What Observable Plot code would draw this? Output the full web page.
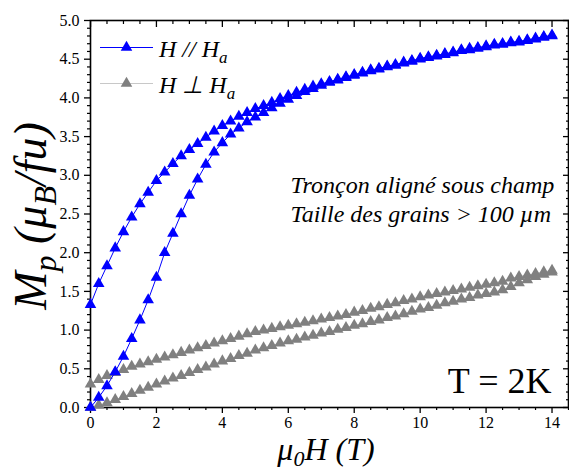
<!DOCTYPE html>
<html><head><meta charset="utf-8">
<script src="https://cdn.jsdelivr.net/npm/d3@7"></script>
<script src="https://cdn.jsdelivr.net/npm/@observablehq/plot@0.6"></script>
<style>body{margin:0;background:#fff} svg{display:block}</style>
</head><body><div id="chart"></div>
<script>
// Field values (T)
const field = [0,0.25,0.5,0.75,1,1.25,1.5,1.75,2,2.25,2.5,2.75,3,3.25,3.5,3.75,4,4.25,4.5,4.75,5,5.25,5.5,5.75,6,6.25,6.5,6.75,7,7.25,7.5,7.75,8,8.25,8.5,8.75,9,9.25,9.5,9.75,10,10.25,10.5,10.75,11,11.25,11.5,11.75,12,12.25,12.5,12.75,13,13.25,13.5,13.75,14];
// H // Ha : increasing (virgin) branch and decreasing branch
const paraUp = [0.00,0.13,0.28,0.46,0.66,0.89,1.13,1.39,1.68,2.00,2.25,2.50,2.74,2.95,3.14,3.30,3.42,3.53,3.61,3.69,3.75,3.81,3.87,3.93,3.98,4.03,4.08,4.12,4.16,4.20,4.23,4.26,4.29,4.32,4.35,4.37,4.40,4.42,4.45,4.47,4.50,4.52,4.54,4.56,4.58,4.61,4.62,4.64,4.66,4.68,4.69,4.71,4.72,4.74,4.76,4.78,4.80];
const paraDown = [1.33,1.60,1.83,2.06,2.27,2.46,2.63,2.78,2.93,3.04,3.15,3.25,3.33,3.41,3.49,3.57,3.64,3.70,3.76,3.81,3.86,3.90,3.94,3.99,4.03,4.07,4.11,4.15,4.18,4.21,4.24,4.27,4.30,4.33,4.36,4.38,4.41,4.43,4.46,4.48,4.51,4.53,4.55,4.57,4.59,4.62,4.64,4.65,4.67,4.69,4.70,4.72,4.73,4.75,4.77,4.79,4.81];
// H ⊥ Ha
const perpUp = [0.00,0.03,0.06,0.10,0.14,0.18,0.22,0.26,0.30,0.34,0.38,0.41,0.45,0.49,0.52,0.56,0.60,0.63,0.67,0.70,0.74,0.77,0.80,0.83,0.86,0.88,0.91,0.93,0.96,0.98,1.01,1.03,1.06,1.08,1.11,1.13,1.16,1.18,1.21,1.24,1.27,1.29,1.32,1.35,1.37,1.40,1.42,1.45,1.47,1.49,1.52,1.56,1.61,1.65,1.69,1.72,1.75];
const perpDown = [0.30,0.36,0.41,0.45,0.49,0.53,0.56,0.59,0.62,0.65,0.68,0.71,0.74,0.77,0.80,0.83,0.86,0.89,0.92,0.95,0.98,1.00,1.02,1.04,1.06,1.08,1.10,1.12,1.14,1.16,1.18,1.20,1.23,1.25,1.28,1.30,1.33,1.35,1.38,1.40,1.43,1.45,1.47,1.49,1.51,1.53,1.55,1.57,1.59,1.61,1.63,1.67,1.69,1.71,1.73,1.75,1.77];

const xMajor = [0,2,4,6,8,10,12,14];
const xMinor = [0.5,1,1.5,2.5,3,3.5,4.5,5,5.5,6.5,7,7.5,8.5,9,9.5,10.5,11,11.5,12.5,13,13.5,14.5];
const yMajor = [0,0.5,1,1.5,2,2.5,3,3.5,4,4.5,5];
const yMinor = [0.1,0.2,0.3,0.4,0.6,0.7,0.8,0.9,1.1,1.2,1.3,1.4,1.6,1.7,1.8,1.9,2.1,2.2,2.3,2.4,2.6,2.7,2.8,2.9,3.1,3.2,3.3,3.4,3.6,3.7,3.8,3.9,4.1,4.2,4.3,4.4,4.6,4.7,4.8,4.9];

const annotation = ["Tronçon aligné sous champ", "Taille des grains > 100 \u00B5m"];
const tempLabel = "T = 2K";

const toRows = (ys) => field.map((h, i) => ({H: h, M: ys[i]}));
const pUp = toRows(paraUp), pDown = toRows(paraDown), qUp = toRows(perpUp), qDown = toRows(perpDown);

const BLUE = "#0000ff", GRAY = "#808080", GRAYLINE = "#b0b0b0";
const FONT = "Liberation Serif";
const R = 4.3;

const chart = Plot.plot({
  width: 569, height: 468,
  marginLeft: 90, marginRight: 1, marginTop: 20, marginBottom: 61,
  style: {fontFamily: FONT, fontSize: "16px", color: "black", background: "white"},
  x: {domain: [0, 14.5]},
  y: {domain: [0, 5]},
  marks: [
    Plot.axisX({ticks: xMajor, tickSize: 6, tickPadding: 3, tickFormat: d => d, label: null, fontSize: 16, strokeWidth: 1.3}),
    Plot.axisX({ticks: xMinor, tickSize: 3, tickFormat: () => "", label: null, strokeWidth: 1.2}),
    Plot.axisX({anchor: "top", ticks: xMajor, tickSize: -6, tickFormat: () => "", label: null, strokeWidth: 1.3}),
    Plot.axisX({anchor: "top", ticks: xMinor, tickSize: -3, tickFormat: () => "", label: null, strokeWidth: 1.2}),
    Plot.axisY({ticks: yMajor, tickSize: 6, tickPadding: 5, tickFormat: d3.format(".1f"), label: null, fontSize: 16, strokeWidth: 1.3}),
    Plot.axisY({ticks: yMinor, tickSize: 3, tickFormat: () => "", label: null, strokeWidth: 1.2}),
    Plot.axisY({anchor: "right", ticks: yMajor, tickSize: -6, tickFormat: () => "", label: null, strokeWidth: 1.3}),
    Plot.axisY({anchor: "right", ticks: yMinor, tickSize: -3, tickFormat: () => "", label: null, strokeWidth: 1.2}),
    Plot.frame({stroke: "black", strokeWidth: 1.6}),
    Plot.line(qUp, {x: "H", y: "M", stroke: GRAYLINE, strokeWidth: 1}),
    Plot.line(qDown, {x: "H", y: "M", stroke: GRAYLINE, strokeWidth: 1}),
    Plot.dot(qUp, {x: "H", y: "M", symbol: "triangle", r: R, fill: GRAY, stroke: "none"}),
    Plot.dot(qDown, {x: "H", y: "M", symbol: "triangle", r: R, fill: GRAY, stroke: "none"}),
    Plot.line(pUp, {x: "H", y: "M", stroke: BLUE, strokeWidth: 1}),
    Plot.line(pDown, {x: "H", y: "M", stroke: BLUE, strokeWidth: 1}),
    Plot.dot(pUp, {x: "H", y: "M", symbol: "triangle", r: R, fill: BLUE, stroke: "none"}),
    Plot.dot(pDown, {x: "H", y: "M", symbol: "triangle", r: R, fill: BLUE, stroke: "none"}),
    Plot.text([annotation.join("\n")], {frameAnchor: "top-left", dx: 200, dy: 152, textAnchor: "start", lineAnchor: "top", lineHeight: 1.2, fontSize: 24, fontStyle: "italic", fill: "black"}),
    Plot.text([tempLabel], {frameAnchor: "bottom-right", dx: -17, dy: -15, textAnchor: "end", lineAnchor: "bottom", fontSize: 36, fill: "black"})
  ]
});

document.getElementById("chart").appendChild(chart);

const svg = d3.select(chart);
// Legend
const legend = [
  {label: "H // H", sub: "a", color: BLUE, line: BLUE, y: 47.5},
  {label: "H \u22A5 H", sub: "a", color: GRAY, line: "#c8c8c8", y: 83.5}
];
const lg = svg.append("g").attr("text-anchor", "start");
legend.forEach(d => {
  lg.append("line").attr("x1", 100).attr("x2", 153).attr("y1", d.y).attr("y2", d.y)
    .attr("stroke", d.line).attr("stroke-width", 1.2);
  lg.append("path").attr("d", d3.symbol(d3.symbolTriangle, Math.PI * R * R)())
    .attr("transform", `translate(126.5,${d.y})`).attr("fill", d.color);
  const t = lg.append("text").attr("x", 159).attr("y", d.y + 9).attr("text-anchor", "start")
    .attr("font-family", FONT).attr("font-style", "italic").attr("font-size", 24).attr("fill", "black");
  t.append("tspan").text(d.label);
  t.append("tspan").attr("dy", 6).attr("font-size", 17).text(d.sub);
});

// X axis label
const xl = svg.append("text").attr("x", 326).attr("y", 460).attr("text-anchor", "middle")
  .attr("font-family", FONT).attr("font-style", "italic").attr("font-size", 32).attr("fill", "black");
xl.append("tspan").text("\u03BC");
xl.append("tspan").attr("dy", 6).attr("font-size", 22).text("0");
xl.append("tspan").attr("dy", -6).text("H (T)");

// Y axis label
const yl = svg.append("text").attr("transform", "translate(46,216) rotate(-90)").attr("text-anchor", "middle")
  .attr("font-family", FONT).attr("font-style", "italic").attr("font-size", 46).attr("fill", "black");
yl.append("tspan").text("M");
yl.append("tspan").attr("dy", 10).attr("font-size", 32).text("p");
yl.append("tspan").attr("dy", -10).text(" (\u03BC");
yl.append("tspan").attr("dy", 10).attr("font-size", 32).text("B");
yl.append("tspan").attr("dy", -10).text("/fu)");
</script>
</body></html>
